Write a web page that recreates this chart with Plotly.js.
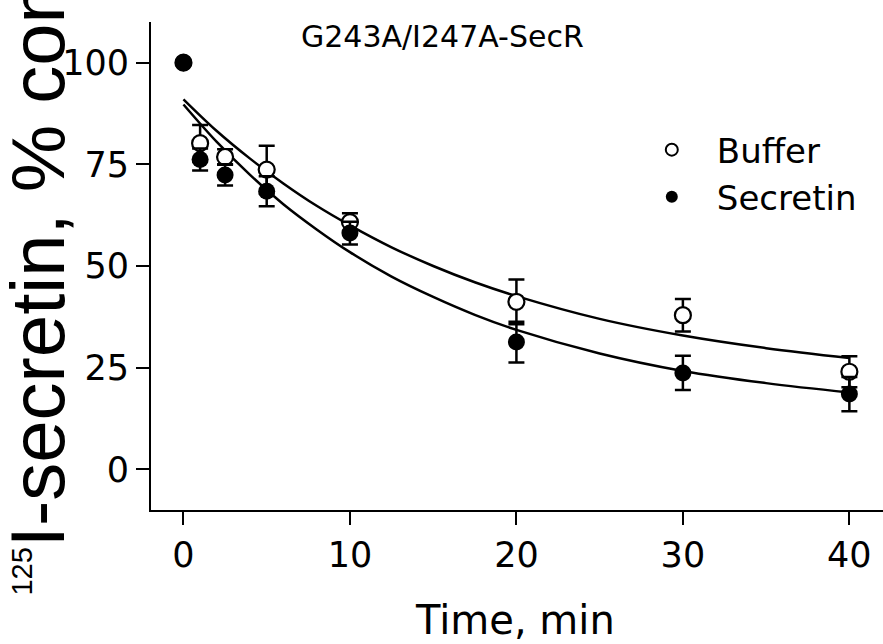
<!DOCTYPE html>
<html><head><meta charset="utf-8">
<script src="https://cdn.plot.ly/plotly-3.0.1.min.js"></script>
<style>html,body{margin:0;padding:0;background:#fff;}#chart{width:883px;height:644px;}</style>
</head><body><div id="chart"></div>
<script>
// Measured points (mean and SEM, % of initial binding)
const timeMin = [0, 1, 2.5, 5, 10, 20, 30, 40];
const bufferPct = [100, 80.2, 76.8, 73.7, 60.8, 41.2, 37.9, 24.0];
const bufferErr = [null, 4.5, 1.9, 5.9, 2.2, 5.5, 4.0, 3.8];
const secretinPct = [100, 76.2, 72.4, 68.4, 58.1, 31.3, 23.7, 18.5];
const secretinErr = [null, 2.7, 2.6, 3.7, 2.8, 5.0, 4.2, 4.2];
// Fitted decay curves
const fitTime = [0, 2, 4, 6, 8, 10, 12.5, 15, 17.5, 20, 25, 30, 35, 40];
const fitBuffer = [91.0, 83.2, 76.4, 70.3, 64.8, 60.0, 54.6, 50.0, 46.0, 42.6, 37.0, 32.9, 29.8, 27.4];
const fitSecretin = [89.7, 80.5, 72.4, 65.2, 59.0, 53.4, 47.4, 42.4, 38.0, 34.3, 28.5, 24.2, 21.2, 18.9];
const xTicks = [0, 10, 20, 30, 40];
const yTicks = [0, 25, 50, 75, 100];
const seriesNames = ['Buffer', 'Secretin'];

const FONT = '"DejaVu Sans", "Liberation Sans", Arial, sans-serif';
const FONT_Y = '"Liberation Sans", Arial, sans-serif';

const errStyle = {type: 'data', visible: true, color: '#000', thickness: 2.5, width: 8};

const traces = [
  {x: fitTime, y: fitBuffer, mode: 'lines', line: {color: '#000', width: 2.5, shape: 'spline'},
   showlegend: false, hoverinfo: 'skip'},
  {x: fitTime, y: fitSecretin, mode: 'lines', line: {color: '#000', width: 2.5, shape: 'spline'},
   showlegend: false, hoverinfo: 'skip'},
  {x: timeMin, y: bufferPct, name: seriesNames[0], mode: 'markers', cliponaxis: false,
   marker: {symbol: 'circle', size: 16, color: '#fff', line: {color: '#000', width: 2.2}},
   error_y: Object.assign({array: bufferErr}, errStyle)},
  {x: timeMin, y: secretinPct, name: seriesNames[1], mode: 'markers', cliponaxis: false,
   marker: {symbol: 'circle', size: 17, color: '#000', line: {color: '#000', width: 0}},
   error_y: Object.assign({array: secretinErr}, errStyle)}
];

const axisCommon = {
  showgrid: false, zeroline: false, showline: true, linecolor: '#000', linewidth: 2,
  ticks: 'outside', ticklen: 13, tickwidth: 2, tickcolor: '#000',
  tickfont: {family: FONT, size: 35, color: '#000'}, tickmode: 'array'
};

const layout = {
  width: 883, height: 644,
  margin: {l: 151, r: 0, t: 22, b: 134, pad: 0},
  paper_bgcolor: '#fff', plot_bgcolor: '#fff',
  font: {family: FONT, color: '#000'},
  title: {text: 'G243A/I247A-SecR', font: {family: FONT, size: 30, color: '#000'},
          x: 0.501, xref: 'container', xanchor: 'center', y: 0.944, yref: 'container', yanchor: 'middle'},
  xaxis: Object.assign({}, axisCommon, {range: [-1.95, 42.02], tickvals: xTicks, ticktext: xTicks.map(String)}),
  yaxis: Object.assign({}, axisCommon, {range: [-10, 110], tickvals: yTicks, ticktext: yTicks.map(String)}),
  showlegend: true,
  legend: {x: 0.650, y: 0.797, xanchor: 'left', yanchor: 'top', xref: 'paper', yref: 'paper',
           bgcolor: 'rgba(0,0,0,0)', borderwidth: 0, itemsizing: 'constant', itemwidth: 80,
           font: {family: FONT, size: 34, color: '#000'}},
  annotations: [
    {text: 'Time, min', xref: 'paper', yref: 'paper', x: 0.4975, y: -0.225, xanchor: 'center', yanchor: 'middle',
     showarrow: false, font: {family: FONT, size: 40, color: '#000'}},
    {text: '<sup><span style="font-size:29px">125</span></sup>I-secretin, % control', xref: 'paper', yref: 'paper',
     x: -0.1548, y: -0.180, xanchor: 'center', yanchor: 'bottom', textangle: -90, showarrow: false,
     font: {family: FONT_Y, size: 76, color: '#000'}}
  ]
};

Plotly.newPlot('chart', traces, layout, {displayModeBar: false, staticPlot: true});
</script>
</body></html>
